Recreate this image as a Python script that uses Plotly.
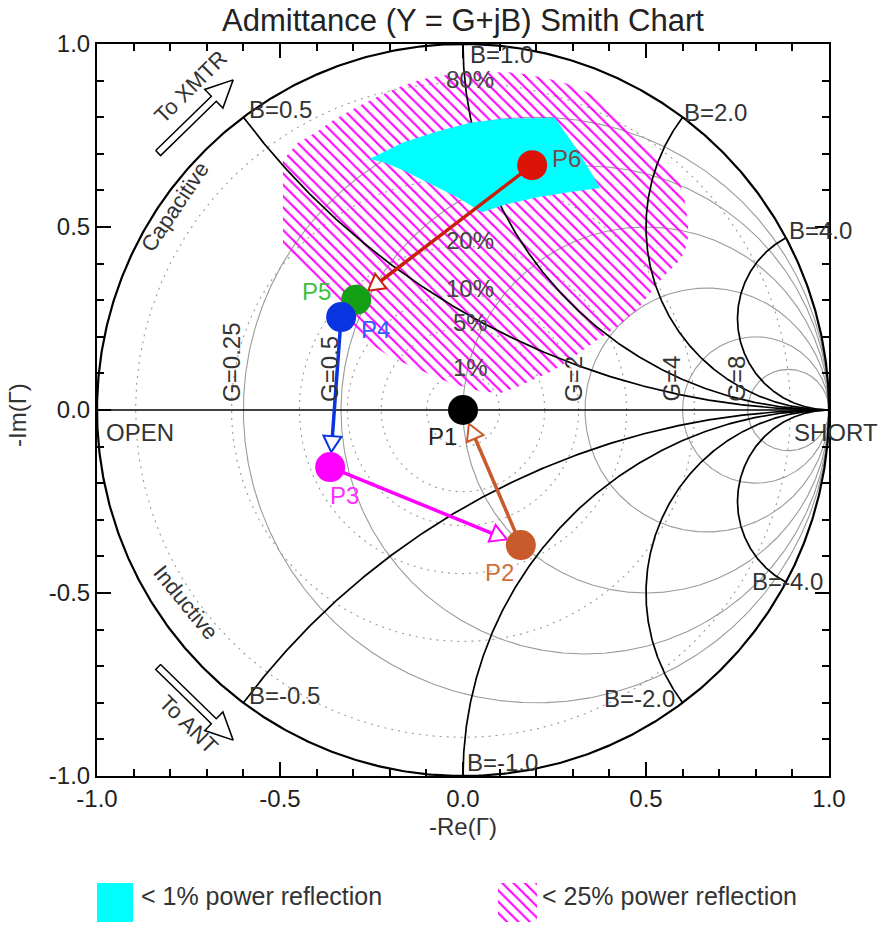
import numpy as np
import plotly.graph_objects as go

# ---------------------------------------------------------------- page layout
FIG_W, FIG_H = 882, 926
PLOT_LEFT, PLOT_RIGHT, PLOT_TOP, PLOT_BOTTOM = 97, 829, 44, 776
FONT = "Liberation Sans, Arial, Helvetica, sans-serif"
TEXT = "#333333"
GRID_GRAY = "#9a9a9a"

# ---------------------------------------------------------------- chart grid
# constant-conductance circles and their labels
G_VALUES = [0.25, 0.5, 1.0, 2.0, 4.0, 8.0]
G_LABELS = ["G=0.25", "G=0.5", "", "G=2", "G=4", "G=8"]
# constant-susceptance arcs and their labels
B_VALUES = [0.5, 1.0, 2.0, 4.0, -0.5, -1.0, -2.0, -4.0]
B_LABELS = ["B=0.5", "B=1.0", "B=2.0", "B=4.0", "B=-0.5", "B=-1.0", "B=-2.0", "B=-4.0"]
# constant power-reflection circles, |Gamma|^2 in percent
REFL_PCT = [1, 5, 10, 20, 40, 80]
REFL_LABELS = ["1%", "5%", "10%", "20%", "", "80%"]

# axis ticks
TICK_VALS = [-1.0, -0.5, 0.0, 0.5, 1.0]
TICK_TEXT = ["-1.0", "-0.5", "0.0", "0.5", "1.0"]

# ---------------------------------------------------------------- tuning data
# states of the matching network in the (-Re, -Im) reflection plane
PT_NAMES = ["P1", "P2", "P3", "P4", "P5", "P6"]
PT_RE = [0.0, 0.158, -0.363, -0.333, -0.292, 0.189]
PT_IM = [0.0, -0.369, -0.156, 0.254, 0.301, 0.669]
PT_COLORS = ["#000000", "#c85a2c", "#ff00ff", "#0a34e0", "#14a014", "#dc1408"]
PT_LABEL_COLORS = ["#222222", "#d0703c", "#ff2cff", "#3060ff", "#40c040", "#7d4848"]

# steps between states, drawn as arrows
MOVE_FROM = ["P6", "P4", "P3", "P2"]
MOVE_TO = ["P5", "P3", "P2", "P1"]
MOVE_COLORS = ["#c81e0a", "#0a34e0", "#ff00ff", "#c85a2c"]

# region with < 1 % reflected power
CYAN_RE = [-0.254, -0.164, -0.071, 0.019, 0.109, 0.251, 0.317, 0.374, 0.292,
           0.202, 0.109, 0.052, -0.016, -0.090, -0.164, -0.219]
CYAN_IM = [0.686, 0.730, 0.760, 0.784, 0.795, 0.798, 0.702, 0.607, 0.596,
           0.582, 0.560, 0.541, 0.582, 0.620, 0.656, 0.678]

# region with < 25 % reflected power
HATCH_RE = [-0.492, -0.492, -0.492, -0.451, -0.399, -0.355, -0.290, -0.235, -0.172,
            -0.117, -0.063, 0.019, 0.120, 0.169, 0.219, 0.273, 0.355, 0.484, 0.593,
            0.607, 0.615, 0.615, 0.607, 0.593, 0.546, 0.511, 0.475, 0.421, 0.374,
            0.328, 0.284, 0.238, 0.191, 0.148, 0.101, 0.046, -0.036, -0.117, -0.199,
            -0.268, -0.322, -0.377, -0.445]
HATCH_IM = [0.451, 0.574, 0.683, 0.730, 0.760, 0.792, 0.828, 0.855, 0.883,
            0.902, 0.913, 0.921, 0.923, 0.918, 0.907, 0.896, 0.861, 0.738, 0.620,
            0.566, 0.511, 0.473, 0.437, 0.410, 0.363, 0.320, 0.273, 0.227, 0.197,
            0.164, 0.131, 0.104, 0.082, 0.063, 0.046, 0.052, 0.074, 0.109, 0.145,
            0.191, 0.260, 0.342, 0.404]

HATCH_PATTERN = dict(shape="\\", fgcolor="#ff00ff", fgopacity=1.0, size=8, solidity=0.26)

PX = (PLOT_RIGHT - PLOT_LEFT) / 2.0      # pixels per unit of Gamma
S = 1.0 / PX


def circle(cx, cy, r, n=721):
    t = np.linspace(0, 2 * np.pi, n)
    return cx + r * np.cos(t), cy + r * np.sin(t)


def b_endpoint(b):
    return (b * b - 1) / (b * b + 1), 2 * b / (b * b + 1)


def b_arc(b, n=400):
    bb = abs(b)
    c = 1.0 / bb
    x0, y0 = b_endpoint(bb)
    a0 = np.arctan2(y0 - c, x0 - 1) % (2 * np.pi)
    t = np.linspace(a0, 1.5 * np.pi, n)
    xs = 1 + c * np.cos(t)
    ys = c + c * np.sin(t)
    return xs, (ys if b > 0 else -ys)


def unit(dx, dy):
    L = np.hypot(dx, dy)
    return dx / L, dy / L


def arrow_parts(x1, y1, x2, y2, r_px=15, head_len=16, head_hw=9):
    ux, uy = unit(x2 - x1, y2 - y1)
    nx, ny = -uy, ux
    tx, ty = x2 - ux * r_px * S, y2 - uy * r_px * S
    bx, by = tx - ux * head_len * S, ty - uy * head_len * S
    head_x = [tx, bx + nx * head_hw * S, bx - nx * head_hw * S, tx]
    head_y = [ty, by + ny * head_hw * S, by - ny * head_hw * S, ty]
    return [x1, bx], [y1, by], head_x, head_y


def block_arrow(tail, tip, shaft_hw=3.5, head_len=27, head_hw=13):
    ux, uy = unit(tip[0] - tail[0], tip[1] - tail[1])
    nx, ny = -uy, ux
    kx, ky = tip[0] - ux * head_len * S, tip[1] - uy * head_len * S
    pts = [
        (tail[0] + nx * shaft_hw * S, tail[1] + ny * shaft_hw * S),
        (kx + nx * shaft_hw * S, ky + ny * shaft_hw * S),
        (kx + nx * head_hw * S, ky + ny * head_hw * S),
        tip,
        (kx - nx * head_hw * S, ky - ny * head_hw * S),
        (kx - nx * shaft_hw * S, ky - ny * shaft_hw * S),
        (tail[0] - nx * shaft_hw * S, tail[1] - ny * shaft_hw * S),
    ]
    pts.append(pts[0])
    return [p[0] for p in pts], [p[1] for p in pts]


fig = go.Figure()


def line_trace(x, y, color, width, dash="solid", **kw):
    fig.add_trace(go.Scatter(x=x, y=y, mode="lines", hoverinfo="skip", showlegend=False,
                             line=dict(color=color, width=width, dash=dash), **kw))


# conductance circles
for g in G_VALUES:
    x, y = circle(g / (1 + g), 0.0, 1.0 / (1 + g))
    line_trace(x, y, GRID_GRAY, 1.1)

# reflected-power circles
for p in REFL_PCT:
    x, y = circle(0.0, 0.0, np.sqrt(p / 100.0))
    line_trace(x, y, GRID_GRAY, 1.1, dash="2px,5px")

# < 25 % region (hatched)
fig.add_trace(go.Scatter(x=HATCH_RE + HATCH_RE[:1], y=HATCH_IM + HATCH_IM[:1], mode="lines",
                         fill="toself", fillcolor="rgba(0,0,0,0)", fillpattern=HATCH_PATTERN,
                         line=dict(width=0, color="rgba(0,0,0,0)"),
                         hoverinfo="skip", showlegend=False))

# real axis, susceptance arcs and the outer (G=0) circle
line_trace([-1, 1], [0, 0], "black", 1.6)
for b in B_VALUES:
    x, y = b_arc(b)
    line_trace(x, y, "black", 1.7)
x, y = circle(0.0, 0.0, 1.0)
line_trace(x, y, "black", 2.2)

# < 1 % region (solid)
fig.add_trace(go.Scatter(x=CYAN_RE + CYAN_RE[:1], y=CYAN_IM + CYAN_IM[:1], mode="lines",
                         fill="toself", fillcolor="#00ffff",
                         line=dict(width=0.5, color="#00ffff"),
                         hoverinfo="skip", showlegend=False))

# tuning steps
idx = {n: i for i, n in enumerate(PT_NAMES)}
for f, t, col in zip(MOVE_FROM, MOVE_TO, MOVE_COLORS):
    i, j = idx[f], idx[t]
    lx, ly, hx, hy = arrow_parts(PT_RE[i], PT_IM[i], PT_RE[j], PT_IM[j])
    line_trace(lx, ly, col, 3.5)
    fig.add_trace(go.Scatter(x=hx, y=hy, mode="lines", fill="toself", fillcolor="white",
                             line=dict(color=col, width=2), hoverinfo="skip", showlegend=False))

# state markers (later states underneath earlier ones)
for k in reversed(range(len(PT_NAMES))):
    fig.add_trace(go.Scatter(x=[PT_RE[k]], y=[PT_IM[k]], mode="markers",
                             marker=dict(size=30, color=PT_COLORS[k], line=dict(width=0)),
                             hoverinfo="skip", showlegend=False))

# direction arrows at the rim
XMTR_ARROW = ((-0.833, 0.702), (-0.628, 0.902))
ANT_ARROW = ((-0.833, -0.702), (-0.628, -0.902))
for tail, tip in (XMTR_ARROW, ANT_ARROW):
    x, y = block_arrow(tail, tip)
    fig.add_trace(go.Scatter(x=x, y=y, mode="lines", fill="toself", fillcolor="white",
                             line=dict(color="black", width=1.5), hoverinfo="skip",
                             showlegend=False))

# legend swatches, drawn in a pixel-space helper axis below the chart
SW_CYAN = (97, 133, 883, 922)
SW_HATCH = (498, 537, 883, 922)
x0, x1, y0, y1 = SW_CYAN
fig.add_trace(go.Scatter(x=[x0, x1, x1, x0, x0], y=[y0, y0, y1, y1, y0], mode="lines",
                         fill="toself", fillcolor="#00ffff", line=dict(width=0),
                         xaxis="x2", yaxis="y2", hoverinfo="skip", showlegend=False))
x0, x1, y0, y1 = SW_HATCH
fig.add_trace(go.Scatter(x=[x0, x1, x1, x0, x0], y=[y0, y0, y1, y1, y0], mode="lines",
                         fill="toself", fillcolor="rgba(0,0,0,0)", fillpattern=HATCH_PATTERN,
                         line=dict(width=0, color="rgba(0,0,0,0)"),
                         xaxis="x2", yaxis="y2", hoverinfo="skip", showlegend=False))

# ---------------------------------------------------------------- annotations
ann = []


def label(text, x, y, size=24, color=TEXT, xanchor="center", yanchor="middle",
          xshift=0, yshift=0, angle=0, ref="data"):
    d = dict(text=text, x=x, y=y, showarrow=False, xanchor=xanchor, yanchor=yanchor,
             xshift=xshift, yshift=yshift, textangle=angle,
             font=dict(family=FONT, size=size, color=color))
    if ref == "data":
        d.update(xref="x", yref="y")
    else:
        d.update(xref="paper", yref="paper")
    ann.append(d)


# susceptance labels at the rim
B_LABEL_STYLE = {
    "B=0.5": ("left", 4, 8), "B=1.0": ("left", 5, -10), "B=2.0": ("left", -1, 5),
    "B=4.0": ("left", 1, 7), "B=-0.5": ("left", 4, 7), "B=-1.0": ("left", 2, 14),
    "B=-2.0": ("right", -6, 4), "B=-4.0": ("center", 2, 1),
}
for b, txt in zip(B_VALUES, B_LABELS):
    ex, ey = b_endpoint(b)
    xa, xs, ys = B_LABEL_STYLE[txt]
    label(txt, ex, ey, xanchor=xa, xshift=xs, yshift=ys)

# conductance labels along the real axis
for g, txt in zip(G_VALUES, G_LABELS):
    if txt:
        label(txt, (g - 1) / (g + 1), 0.0, xanchor="center", yanchor="bottom",
              xshift=-12, yshift=6, angle=-90)

# reflected-power labels
for p, txt in zip(REFL_PCT, REFL_LABELS):
    if txt:
        label(txt, 0.02, np.sqrt(p / 100.0), color="#444444",
              yshift=(3 if p == 80 else 6))

label("OPEN", -1.0, 0.0, xanchor="left", xshift=7, yshift=-22)
label("SHORT", 1.0, 0.0, xanchor="left", xshift=-37, yshift=-22)

label("To XMTR", -0.743, 0.883, size=22, angle=-45)
label("Capacitive", -0.787, 0.557, size=22, angle=-56)
label("Inductive", -0.757, -0.525, size=22, angle=51)
label("To ANT", -0.749, -0.858, size=22, angle=45)

# state labels
PT_LABEL_SHIFT = [(-21, -26), (-21, -27), (14, -28), (34, -12), (-40, 8), (34, 7)]
for k, name in enumerate(PT_NAMES):
    dx, dy = PT_LABEL_SHIFT[k]
    label(name, PT_RE[k], PT_IM[k], color=PT_LABEL_COLORS[k], xshift=dx, yshift=dy)

# title, axis titles, legend text (paper coordinates)
label("Admittance (Y = G+jB) Smith Chart", 463 / FIG_W, 1 - 20 / FIG_H, size=31,
      color="#222222", ref="paper")
label("-Re(Γ)", 463 / FIG_W, 1 - 826 / FIG_H, size=24, ref="paper")
label("-Im(Γ)", 18 / FIG_W, 1 - 415 / FIG_H, size=24, angle=-90, ref="paper")
label("< 1% power reflection", 139 / FIG_W, 1 - 896 / FIG_H, size=25, xanchor="left",
      ref="paper")
label("< 25% power reflection", 540 / FIG_W, 1 - 896 / FIG_H, size=25, xanchor="left",
      ref="paper")

axis_common = dict(
    range=[-1, 1], tickmode="array", tickvals=TICK_VALS, ticktext=TICK_TEXT,
    ticks="inside", ticklen=14, tickwidth=1.5, tickcolor="black",
    minor=dict(tickmode="linear", tick0=-1, dtick=0.1, ticks="inside", ticklen=7,
               tickwidth=1.5, tickcolor="black", showgrid=False),
    showline=True, linecolor="black", linewidth=2, mirror="ticks",
    showgrid=False, zeroline=False, fixedrange=True, automargin=False,
    tickfont=dict(family=FONT, size=24, color="#222222"),
)

fig.update_layout(
    template="none",
    width=FIG_W, height=FIG_H, autosize=False,
    margin=dict(l=0, r=0, t=0, b=0, pad=0),
    paper_bgcolor="white", plot_bgcolor="white",
    showlegend=False,
    xaxis=dict(domain=[PLOT_LEFT / FIG_W, PLOT_RIGHT / FIG_W], anchor="y", **axis_common),
    yaxis=dict(domain=[1 - PLOT_BOTTOM / FIG_H, 1 - PLOT_TOP / FIG_H], anchor="x",
               **axis_common),
    xaxis2=dict(domain=[0, 1], range=[0, FIG_W], visible=False, anchor="y2",
                fixedrange=True, automargin=False),
    yaxis2=dict(domain=[0, 70 / FIG_H], range=[FIG_H, FIG_H - 70], visible=False,
                anchor="x2", fixedrange=True, automargin=False),
    annotations=ann,
)

fig.write_html("out.html")
